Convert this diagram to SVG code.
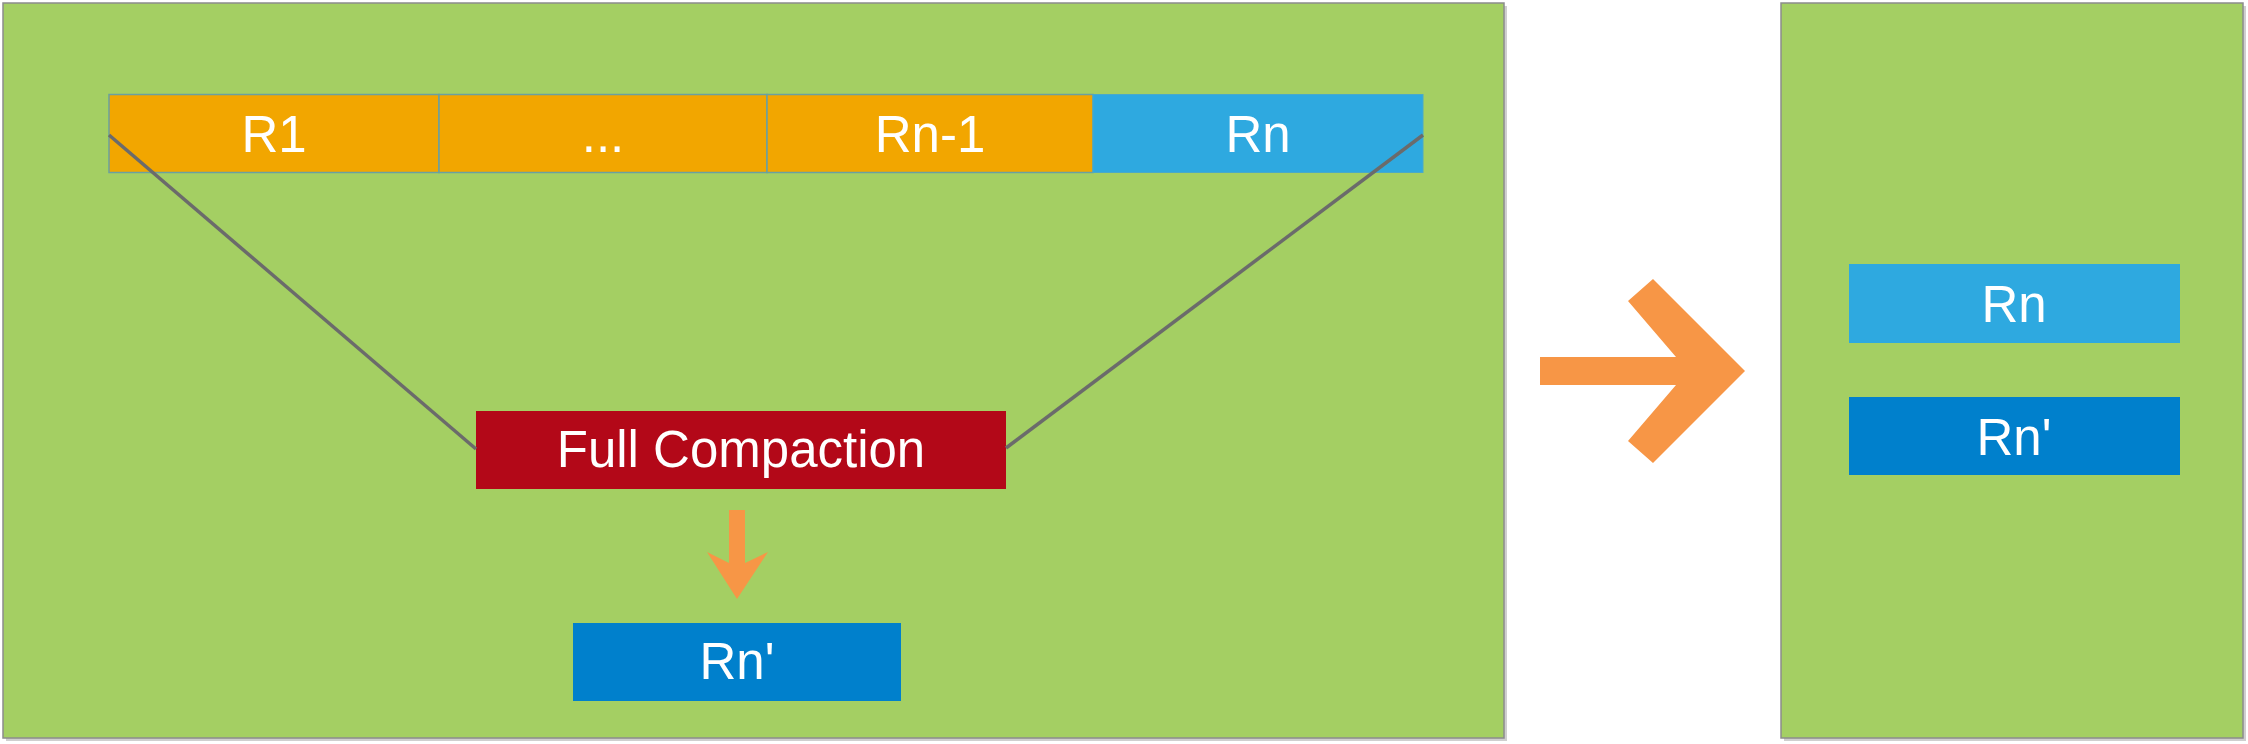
<svg xmlns="http://www.w3.org/2000/svg" width="2248" height="744" viewBox="0 0 2248 744">
<style>
.panel{fill:#a4cf63;stroke:#8c8c8c;stroke-width:1.5}
.shadow{fill:#cfcfcf}
.seg{stroke:#6aa0a0;stroke-width:1.5}
.lbl{font-family:"Liberation Sans",Arial,sans-serif;font-size:51px;fill:#ffffff;text-anchor:middle}
.conn{stroke:#6b6b6b;stroke-width:3.5;fill:none}
.arrow{fill:#f79646}
</style>
<rect width="2248" height="744" fill="#ffffff"/>
<g id="left-panel">
<rect class="shadow" x="6" y="6" width="1501" height="735"/>
<rect class="panel" x="3" y="3" width="1501" height="735"/>
</g>
<g id="right-panel">
<rect class="shadow" x="1784" y="6" width="462" height="735"/>
<rect class="panel" x="1781" y="3" width="462" height="735"/>
</g>
<g id="node-r1">
<rect class="seg" x="109" y="94.5" width="330" height="78" fill="#f2a600"/>
<text class="lbl" x="274" y="152">R1</text>
</g>
<g id="node-dots">
<rect class="seg" x="439" y="94.5" width="328" height="78" fill="#f2a600"/>
<text class="lbl" x="603" y="152">...</text>
</g>
<g id="node-rn1">
<rect class="seg" x="767" y="94.5" width="326" height="78" fill="#f2a600"/>
<text class="lbl" x="930" y="152">Rn-1</text>
</g>
<g id="node-rn">
<rect x="1093" y="94.5" width="330" height="78" fill="#2ea9e0" stroke="#4aa9c8" stroke-width="1"/>
<text class="lbl" x="1258" y="152">Rn</text>
</g>
<g id="node-full-compaction">
<rect x="476" y="411" width="530" height="78" fill="#b30818"/>
<text class="lbl" x="741" y="467">Full Compaction</text>
</g>
<g id="node-rn-prime">
<rect x="573" y="623" width="328" height="78" fill="#0080cc"/>
<text class="lbl" x="737" y="679">Rn'</text>
</g>
<g id="node-right-rn">
<rect x="1849" y="264" width="331" height="79" fill="#2ea9e0"/>
<text class="lbl" x="2014" y="322">Rn</text>
</g>
<g id="node-right-rn-prime">
<rect x="1849" y="397" width="331" height="78" fill="#0080cc"/>
<text class="lbl" x="2014" y="455">Rn'</text>
</g>
<g id="connectors">
<line class="conn" x1="109" y1="135" x2="476" y2="449"/>
<line class="conn" x1="1423" y1="135" x2="1006" y2="448"/>
<polygon class="arrow" points="729,510 745,510 745,563 768,552 737,599 707,552 729,563"/>
<polygon class="arrow" points="1540,357 1676,357 1628,301 1653,279 1745,371 1653,463 1628,441 1676,385 1540,385"/>
</g>
</svg>
